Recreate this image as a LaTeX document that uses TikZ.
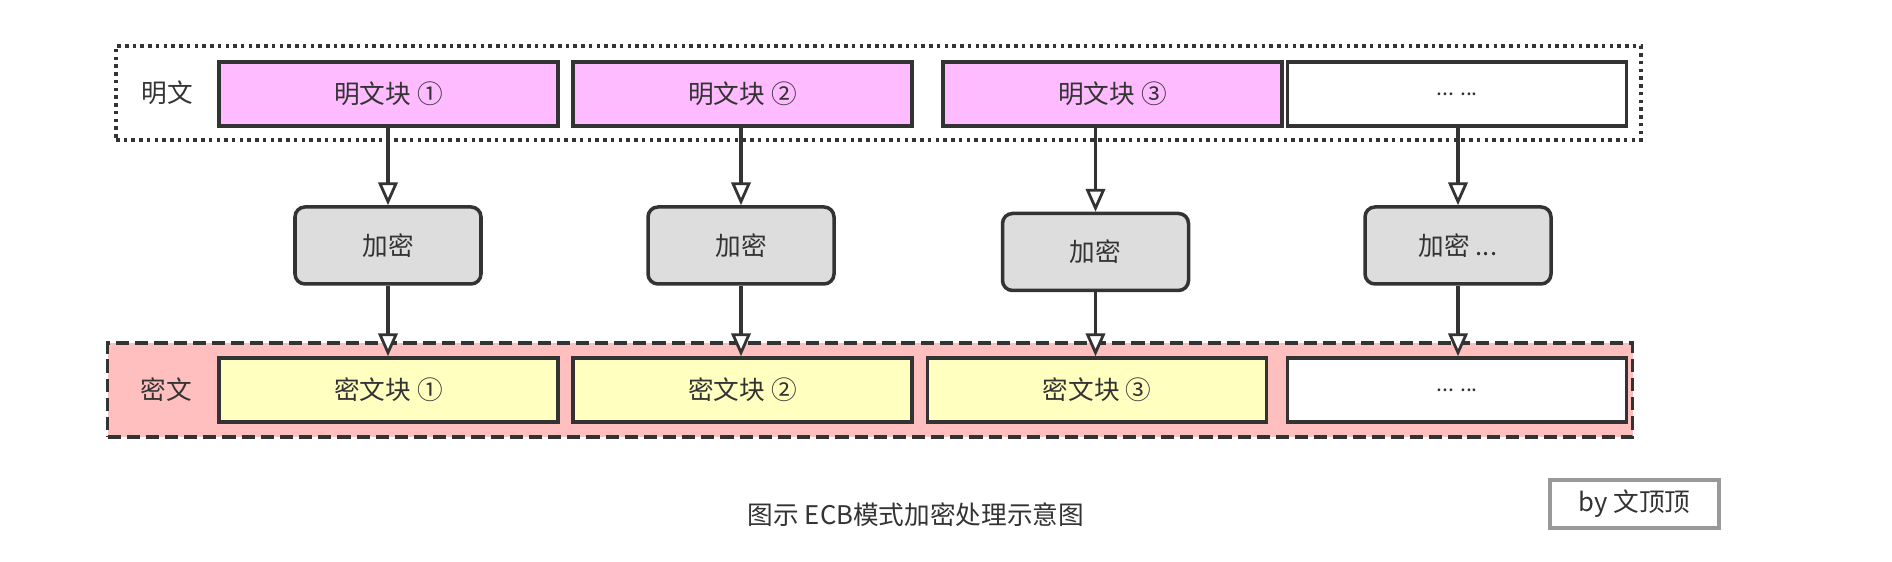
\documentclass[tikz,border=0pt]{standalone}
\usepackage{fontspec}
\setmainfont{Noto Sans CJK SC}
\usepackage{xcolor}
\usepackage{tikz}
\usetikzlibrary{arrows.meta}
\definecolor{plainfill}{RGB}{255,187,255}
\definecolor{cipherfill}{RGB}{255,255,192}
\definecolor{encfill}{RGB}{221,221,221}
\definecolor{groupfill}{RGB}{255,191,191}
\definecolor{linegray}{RGB}{51,51,51}

\begin{document}
\begin{tikzpicture}[
        font=\fontsize{14.6}{17}\selectfont,
        text=linegray,
        block/.style={rectangle, draw=linegray, line width=2pt, minimum width=6.78cm, minimum height=1.28cm, align=center},
        encbox/.style={rectangle, rounded corners=0.2cm, draw=linegray, line width=2pt, fill=encfill, minimum width=3.72cm, minimum height=1.54cm, align=center},
        group/.style={rectangle, draw=linegray, line width=2pt, minimum width=30.5cm, minimum height=1.88cm},
        arrow/.style={-{Triangle[length=13pt, width=11pt, fill=white, line width=1.6pt]}, draw=linegray, line width=2pt}
    ]
        \useasboundingbox (0,0) rectangle (37.84,11.24);

        % Plaintext
        \node[group, dash pattern=on 2pt off 2.4pt] (plaingroup) at (17.57, 9.38) {};
        \node (plainlabel) at (3.34, 9.38) {明文};
        \node[block, fill=plainfill] (plain1) at (7.77, 9.36) {明文块 ①};
        \node[block, fill=plainfill] (plain2) at (14.85, 9.36) {明文块 ②};
        \node[block, fill=plainfill] (plain3) at (22.25, 9.36) {明文块 ③};
        \node[block, fill=white] (plain4) at (29.14, 9.36) {\fontsize{12}{14}\selectfont ... ...};

        % Encryption
        \node[encbox] (enc1) at (7.76, 6.33) {加密};
        \node[encbox] (enc2) at (14.82, 6.33) {加密};
        \node[encbox] (enc3) at (21.91, 6.20) {加密};
        \node[encbox] (enc4) at (29.16, 6.33) {加密 ...};

        % Ciphertext
        \node[group, fill=groupfill, dash pattern=on 7.5pt off 3.4pt] (ciphergroup) at (17.40, 3.44) {};
        \node (cipherlabel) at (3.32, 3.44) {密文};
        \node[block, fill=cipherfill] (ciph1) at (7.77, 3.44) {密文块 ①};
        \node[block, fill=cipherfill] (ciph2) at (14.85, 3.44) {密文块 ②};
        \node[block, fill=cipherfill] (ciph3) at (21.94, 3.44) {密文块 ③};
        \node[block, fill=white] (ciph4) at (29.14, 3.44) {\fontsize{12}{14}\selectfont ... ...};

        % Caption
        \node (caption) at (18.32, 0.94) {图示 ECB模式加密处理示意图};
        \node[rectangle, draw=gray!80, line width=1.8pt, minimum width=3.38cm, minimum height=0.96cm] (author) at (32.69, 1.16) {by 文顶顶};

        % Arrows
        \foreach \i in {1,...,4} {
            \draw[arrow] (plain\i.south -| enc\i.north) -- (enc\i.north);
            \draw[arrow] (enc\i.south) -- (ciph\i.north -| enc\i.south);
        }
    \end{tikzpicture}
\end{document}
